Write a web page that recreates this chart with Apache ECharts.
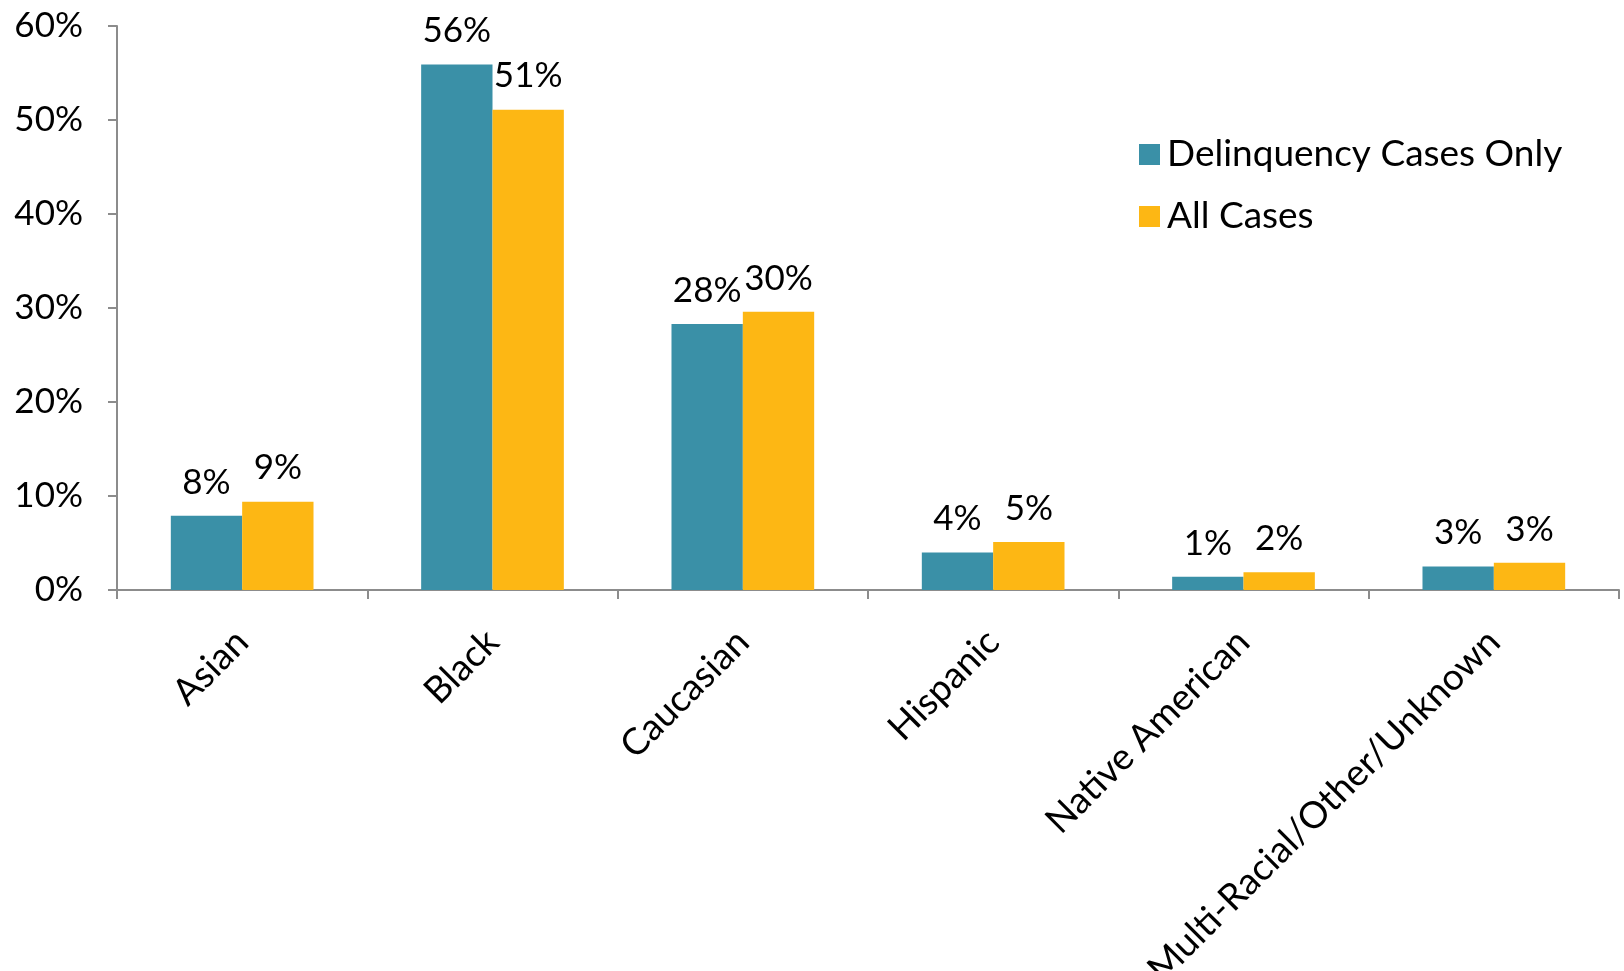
<!DOCTYPE html>
<html>
<head>
<meta charset="utf-8">
<script src="https://cdn.jsdelivr.net/npm/echarts@6/dist/echarts.min.js"></script>
<style>
html,body{margin:0;padding:0;background:#fff;}
#chart{width:1624px;height:971px;}
</style>
</head>
<body>
<div id="chart"></div>
<script>
const categories = ['Asian', 'Black', 'Caucasian', 'Hispanic', 'Native American', 'Multi-Racial/Other/Unknown'];
const delinquencyValues = [7.9, 55.9, 28.3, 4.0, 1.4, 2.5];
const allCasesValues = [9.4, 51.1, 29.6, 5.1, 1.9, 2.9];
const seriesNames = ['Delinquency Cases Only', 'All Cases'];
const yTicks = [0, 10, 20, 30, 40, 50, 60];

const FONT = 'Lato';
const chart = echarts.init(document.getElementById('chart'));
const labelCfg = {
  show: true,
  position: 'top',
  distance: 16,
  color: '#000',
  fontFamily: FONT,
  fontSize: 35,
  formatter: p => Math.round(p.value) + '%'
};
chart.setOption({
  animation: false,
  textStyle: { fontFamily: FONT },
  grid: { left: 117, right: 5, top: 26, bottom: 381, containLabel: false, outerBoundsMode: 'none' },
  legend: {
    orient: 'vertical',
    left: 1134,
    top: 131,
    itemWidth: 21,
    itemHeight: 21,
    itemGap: 25,
    icon: 'rect',
    textStyle: { fontFamily: FONT, fontSize: 37, color: '#000', padding: [0, 0, 0, 2] },
    data: seriesNames
  },
  xAxis: {
    type: 'category',
    data: categories,
    axisLine: { lineStyle: { color: '#8c8c8c', width: 2 } },
    axisTick: { show: true, length: 9, lineStyle: { color: '#8c8c8c', width: 2 } },
    axisLabel: { rotate: 45, interval: 0, margin: 46, color: '#000', fontFamily: FONT, fontSize: 37 }
  },
  yAxis: {
    type: 'value',
    min: yTicks[0],
    max: yTicks[yTicks.length - 1],
    interval: 10,
    splitLine: { show: false },
    axisLine: { show: true, lineStyle: { color: '#8c8c8c', width: 2 } },
    axisTick: { show: true, length: 9, lineStyle: { color: '#8c8c8c', width: 2 } },
    axisLabel: { color: '#000', fontFamily: FONT, fontSize: 35, margin: 34, formatter: v => v + '%' }
  },
  series: [
    {
      name: seriesNames[0], type: 'bar', data: delinquencyValues,
      barGap: '0%', barCategoryGap: '43%',
      itemStyle: { color: '#3A90A7' },
      label: labelCfg
    },
    {
      name: seriesNames[1], type: 'bar', data: allCasesValues,
      barGap: '0%', barCategoryGap: '43%',
      itemStyle: { color: '#FDB714' },
      label: labelCfg
    }
  ]
});
</script>
</body>
</html>
